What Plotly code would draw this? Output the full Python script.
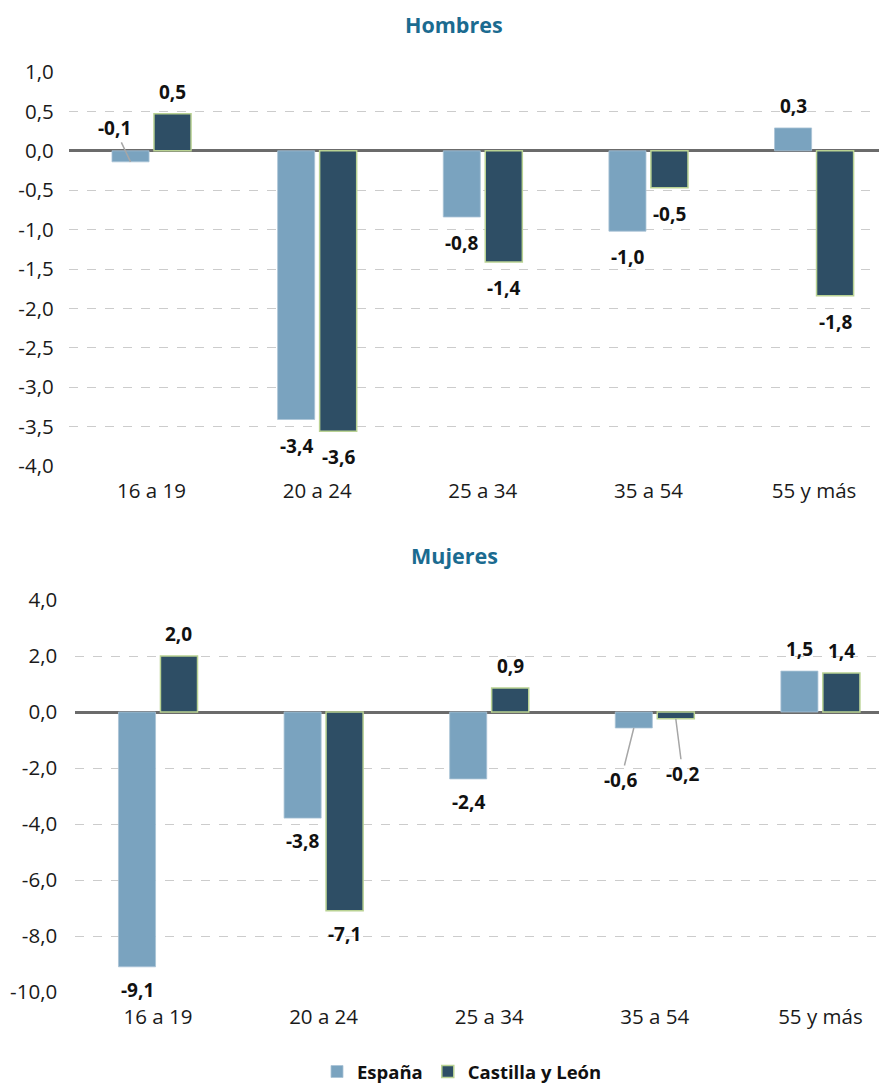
import plotly.graph_objects as go

categories = ["16 a 19", "20 a 24", "25 a 34", "35 a 54", "55 y más"]
series_names = ["España", "Castilla y León"]

hombres_espana = [-0.14, -3.41, -0.84, -1.02, 0.29]
hombres_cyl = [0.47, -3.56, -1.41, -0.47, -1.84]
mujeres_espana = [-9.1, -3.79, -2.39, -0.57, 1.46]
mujeres_cyl = [2.0, -7.1, 0.86, -0.24, 1.39]

hombres_ticks = [1.0, 0.5, 0.0, -0.5, -1.0, -1.5, -2.0, -2.5, -3.0, -3.5, -4.0]
mujeres_ticks = [4.0, 2.0, 0.0, -2.0, -4.0, -6.0, -8.0, -10.0]

COL_ES = "#7aa3bf"
COL_CYL = "#2e4e65"
OUTLINE = "#b9d293"
TITLE_COL = "#1b6b90"
FONT = "Open Sans"

BARGAP = 0.493
BARGROUPGAP = 0.117
OFFSET = (1 - BARGAP) / 4

# page has an 8px body margin; the plot areas run slightly past the window's right edge
PAD = 8
W, H = 896, 1086 - PAD

def fx(p):
    return (p - PAD) / W

def fy(q):
    return 1 - (q - PAD) / H

def fmt(v):
    return f"{v:.1f}".replace(".", ",")

# callouts with leader lines: (panel, series index, category index) -> (ax, ay)
callouts = {
    ("h", 0, 0): (-16, -34),
    ("m", 0, 3): (-13, 52),
    ("m", 1, 3): (7, 55),
}

fig = go.Figure()
x_idx = list(range(len(categories)))

panels = [
    ("h", "x", "y", hombres_espana, hombres_cyl, True, -26),
    ("m", "x2", "y2", mujeres_espana, mujeres_cyl, False, -23),
]

LABEL_FONT = dict(family=FONT, size=19, color="#111111")

annotations = []
for key, xa, ya, es, cyl, showleg, negshift in panels:
    for s, (vals, col, lw, lc) in enumerate([(es, COL_ES, 0.8, "#a9c3d6"), (cyl, COL_CYL, 1.5, OUTLINE)]):
        fig.add_trace(go.Bar(
            x=x_idx, y=vals, name=f"<b>{series_names[s]}</b>", xaxis=xa, yaxis=ya,
            marker=dict(color=col, line=dict(color=lc, width=lw)),
            showlegend=showleg, legendgroup=series_names[s],
        ))
        for i, v in enumerate(vals):
            xpos = i + (-OFFSET if s == 0 else OFFSET)
            ck = (key, s, i)
            if ck in callouts:
                ax, ay = callouts[ck]
                annotations.append(dict(
                    x=xpos, y=v, xref=xa, yref=ya, text=f"<b>{fmt(v)}</b>",
                    showarrow=True, arrowhead=0, arrowwidth=1.5, arrowcolor="#a6a6a6",
                    ax=ax, ay=ay, standoff=0, font=LABEL_FONT,
                ))
            else:
                annotations.append(dict(
                    x=xpos, y=v, xref=xa, yref=ya, text=f"<b>{fmt(v)}</b>",
                    showarrow=False, yanchor="middle",
                    yshift=22 if v >= 0 else negshift, font=LABEL_FONT,
                ))

annotations.append(dict(x=fx(454), y=fy(25), xref="paper", yref="paper",
                        text="<b>Hombres</b>", showarrow=False, yanchor="middle",
                        font=dict(family=FONT, size=21.5, color=TITLE_COL)))
annotations.append(dict(x=fx(454), y=fy(555), xref="paper", yref="paper",
                        text="<b>Mujeres</b>", showarrow=False, yanchor="middle",
                        font=dict(family=FONT, size=21.5, color=TITLE_COL)))

tickfont = dict(family=FONT, size=20.5, color="#1a1a1a")
common_x = dict(tickmode="array", tickvals=x_idx, ticktext=categories, range=[-0.5, 4.5],
                showgrid=False, zeroline=False, showline=False, ticks="",
                tickfont=tickfont, ticklabelstandoff=10, fixedrange=True)
common_y = dict(showgrid=True, gridcolor="#cccccc", griddash="dash", gridwidth=1,
                zeroline=True, zerolinecolor="#6b6b6b", zerolinewidth=2.5,
                showline=False, ticks="", tickfont=tickfont, fixedrange=True)

fig.update_layout(
    width=W, height=H,
    margin=dict(l=0, r=0, t=0, b=0, autoexpand=False),
    paper_bgcolor="white", plot_bgcolor="white",
    barmode="group", bargap=BARGAP, bargroupgap=BARGROUPGAP,
    font=dict(family=FONT, color="#1a1a1a"),
    xaxis=dict(domain=[fx(68.7), fx(896.9)], anchor="y", **common_x),
    yaxis=dict(domain=[fy(466), fy(72)], anchor="x", range=[-4, 1],
               tickmode="array", tickvals=hombres_ticks,
               ticktext=[fmt(t) for t in hombres_ticks], ticklabelstandoff=14, **common_y),
    xaxis2=dict(domain=[fx(75.2), fx(903.2)], anchor="y2", **common_x),
    yaxis2=dict(domain=[fy(992), fy(600)], anchor="x2", range=[-10, 4],
                tickmode="array", tickvals=mujeres_ticks,
                ticktext=[fmt(t) for t in mujeres_ticks], ticklabelstandoff=17, **common_y),
    legend=dict(orientation="h", x=fx(462), xanchor="center", y=fy(1072), yanchor="middle",
                font=dict(family=FONT, size=18.5, color="#111111"), traceorder="normal"),
    annotations=annotations,
    showlegend=True,
)

fig.write_html("out.html")
